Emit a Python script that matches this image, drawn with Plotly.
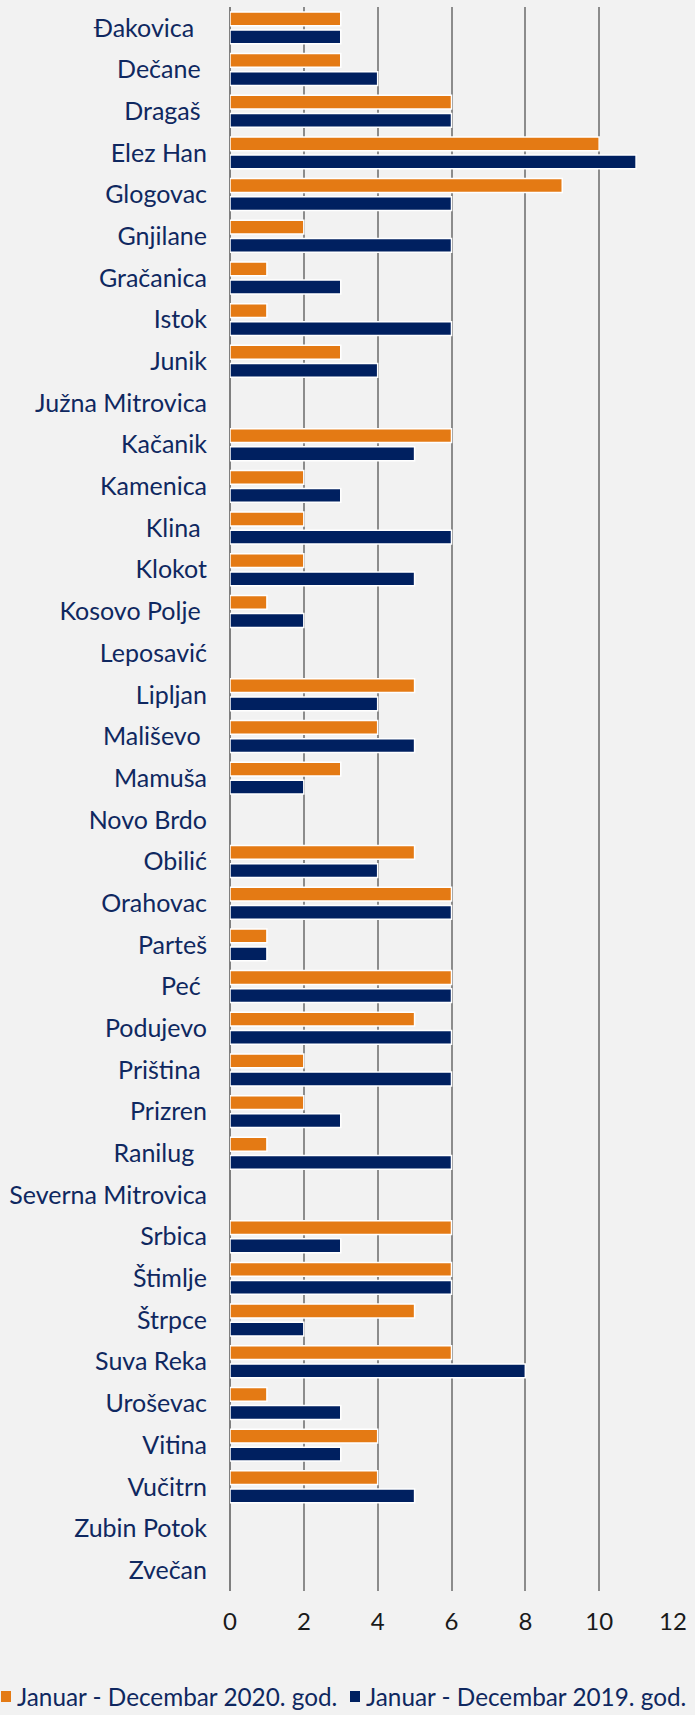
import plotly.graph_objects as go

NB = "\u00a0"
categories = [
    "Đakovica" + NB * 2, "Dečane" + NB, "Dragaš" + NB, "Elez Han", "Glogovac", "Gnjilane",
    "Gračanica", "Istok", "Junik", "Južna Mitrovica", "Kačanik", "Kamenica",
    "Klina" + NB, "Klokot", "Kosovo Polje" + NB, "Leposavić", "Lipljan", "Mališevo" + NB,
    "Mamuša", "Novo Brdo", "Obilić", "Orahovac", "Parteš", "Peć" + NB,
    "Podujevo", "Priština" + NB, "Prizren", "Ranilug" + NB * 2, "Severna Mitrovica", "Srbica",
    "Štimlje", "Štrpce", "Suva Reka", "Uroševac", "Vitina", "Vučitrn",
    "Zubin Potok", "Zvečan",
]
values_2020 = [3, 3, 6, 10, 9, 2, 1, 1, 3, None, 6, 2, 2, 2, 1, None, 5, 4, 3, None,
               5, 6, 1, 6, 5, 2, 2, 1, None, 6, 6, 5, 6, 1, 4, 4, None, None]
values_2019 = [3, 4, 6, 11, 6, 6, 3, 6, 4, None, 5, 3, 6, 5, 2, None, 4, 5, 2, None,
               4, 6, 1, 6, 6, 6, 3, 6, None, 3, 6, 2, 8, 3, 3, 5, None, None]
series_names = ["Januar - Decembar 2020. god.", "Januar - Decembar 2019. god."]
x_ticks = [0, 2, 4, 6, 8, 10, 12]

ORANGE = "#E47A14"
NAVY = "#002060"
LABEL = "#0F2860"
FONT = "Lato, Carlito, Calibri, sans-serif"

W, H = 695, 1715
ML, MR, MT, MB = 230, 22, 7, 124
PW, PH = W - ML - MR, H - MT - MB

fig = go.Figure()
for name, vals, col in [(series_names[0], values_2020, ORANGE), (series_names[1], values_2019, NAVY)]:
    fig.add_trace(go.Bar(
        y=categories, x=vals, name=name, orientation="h",
        marker=dict(color=col, line=dict(color="white", width=1.5)),
    ))

fig.update_layout(
    width=W, height=H,
    margin=dict(l=ML, r=MR, t=MT, b=MB, autoexpand=False),
    paper_bgcolor="#F2F2F2", plot_bgcolor="#F2F2F2",
    barmode="group", bargap=0.13, bargroupgap=0.24,
    showlegend=False,
    font=dict(family=FONT, size=25, color=LABEL),
)
fig.update_yaxes(
    autorange="reversed", showgrid=False, showline=False, zeroline=False,
    ticks="", ticklabelstandoff=22, automargin=False,
    tickfont=dict(family=FONT, size=25, color=LABEL),
)
fig.update_xaxes(
    range=[0, 12], tickvals=x_ticks, ticktext=[str(t) for t in x_ticks],
    showgrid=True, gridcolor="#8C8C8C", gridwidth=1.5,
    zeroline=True, zerolinecolor="#7F7F7F", zerolinewidth=2,
    showline=False, ticks="", ticklabelstandoff=14, automargin=False,
    tickfont=dict(family=FONT, size=24, color="#1A1A1A"),
)

def px_x(x):
    return (x - ML) / PW

def px_y(y):
    return (H - MB - y) / PH

# legend drawn as text with colour keys
legend_y = 1697
for i, (name, col) in enumerate([(series_names[0], ORANGE), (series_names[1], NAVY)]):
    x0 = [1, 350][i]
    fig.add_shape(type="rect", xref="paper", yref="paper",
                  x0=px_x(x0), x1=px_x(x0 + 10),
                  y0=px_y(legend_y + 5), y1=px_y(legend_y - 6),
                  fillcolor=col, line=dict(width=0))
    fig.add_annotation(text=name, xref="paper", yref="paper",
                       x=px_x(x0 + 14), y=px_y(legend_y),
                       xanchor="left", yanchor="middle", showarrow=False,
                       font=dict(family=FONT, size=24.3, color=LABEL))

fig.write_html("out.html", config={"displayModeBar": False},
               post_script="document.body.style.margin='0';document.body.style.overflow='hidden';")
